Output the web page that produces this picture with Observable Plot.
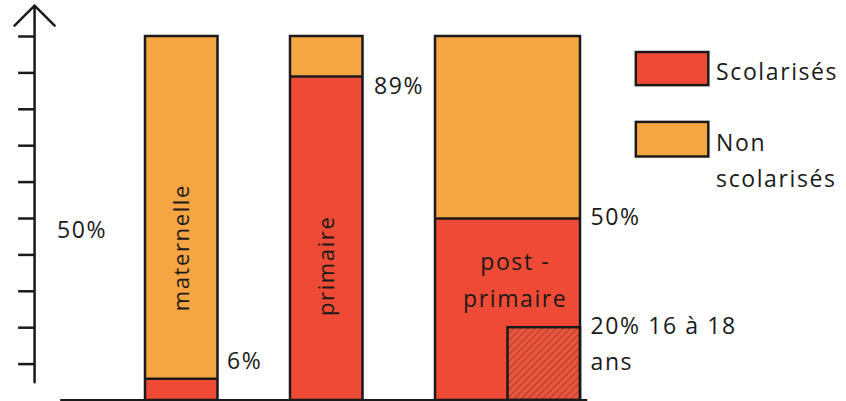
<!DOCTYPE html>
<html>
<head>
<meta charset="utf-8">
<script src="https://cdn.jsdelivr.net/npm/d3@7"></script>
<script src="https://cdn.jsdelivr.net/npm/@observablehq/plot@0.6"></script>
<style>
  html, body { margin: 0; padding: 0; background: #fff; }
  #chart { width: 846px; height: 401px; overflow: hidden; }
  svg text { font-family: "Open Sans", Lato, sans-serif; letter-spacing: 1.6px; }
</style>
</head>
<body>
<div id="chart"></div>
<script>
// ---- data ----
const categories = ["maternelle", "primaire", "post-primaire"];
const scolarises = [6, 89, 50];           // % scolarisés
const barWidths = [1, 1, 2];              // relative widths
const barLabels = ["maternelle", "primaire", "post -\nprimaire"];
const pctLabels = ["6%", "89%", "50%"];
const subCategory = "post-primaire";
const subValue = 20;
const subLabel = "20% 16 à 18\nans";
const axisTicks = [10, 20, 30, 40, 50, 60, 70, 80, 90, 100];
const axisLabel = "50%";
const legendLabels = ["Scolarisés", "Non\nscolarisés"];
const colors = ["#EF4A35", "#F6A543"];

// ---- layout (derived) ----
const gap = 1, start = 2;
let cursor = start;
const bars = categories.map((c, i) => {
  const b = {cat: c, v: scolarises[i], x1: cursor, x2: cursor + barWidths[i],
             label: barLabels[i], pct: pctLabels[i]};
  cursor += barWidths[i] + gap;
  return b;
});
const post = bars.find(b => b.cat === subCategory);
const sub = [{x1: post.x2 - 1, x2: post.x2, y1: 0, y2: subValue, label: subLabel}];
const axisX = 0.47;
const legendX = post.x2 + 0.77;
const legend = legendLabels.map((l, i) => ({label: l, fill: colors[i],
  y1: 95.6 - i * 19.2, y2: 86.5 - i * 19.6}));

const stroke = "#1a1a1a";
const fs = 23;

const plot = Plot.plot({
  width: 846, height: 401,
  marginTop: 36, marginBottom: 1, marginLeft: 0, marginRight: 0,
  x: {domain: [0, 846 / 72.5], axis: null},
  y: {domain: [0, 100], axis: null},
  style: {background: "white", overflow: "visible"},
  marks: [
    // bars
    Plot.rect(bars, {x1: "x1", x2: "x2", y1: 0, y2: "v", fill: colors[0]}),
    Plot.rect(bars, {x1: "x1", x2: "x2", y1: "v", y2: 100, fill: colors[1]}),
    Plot.rect(sub, {x1: "x1", x2: "x2", y1: "y1", y2: "y2", fill: "url(#hatch)", stroke, strokeWidth: 2.5}),
    Plot.rect(bars, {x1: "x1", x2: "x2", y1: 0, y2: 100, fill: "none", stroke, strokeWidth: 2.5}),
    Plot.ruleY(bars, {y: "v", x1: "x1", x2: "x2", stroke, strokeWidth: 2.5}),
    // baseline
    Plot.ruleY([0], {x1: 0.83, x2: post.x2 + 0.1, stroke, strokeWidth: 3}),
    // axis
    Plot.arrow([0], {x1: axisX, x2: axisX, y1: 5, y2: 108.5, stroke, strokeWidth: 2.5, headLength: 17, headAngle: 90}),
    Plot.ruleY(axisTicks, {y: d => d, x1: axisX - 0.22, x2: axisX, stroke, strokeWidth: 2.5}),
    Plot.text([axisLabel], {x: 0.78, y: 50, text: d => d, textAnchor: "start", dy: 12, fontSize: fs, fill: stroke}),
    // percent labels
    Plot.text(bars.filter(b => b.v < 20), {x: "x2", y: "v", text: "pct", textAnchor: "start", dx: 9, dy: -17, fontSize: fs, fill: stroke}),
    Plot.text(bars.filter(b => b.v > 80), {x: "x2", y: "v", text: "pct", textAnchor: "start", dx: 11, dy: 10, fontSize: fs, fill: stroke}),
    Plot.text(bars.filter(b => b.v >= 20 && b.v <= 80), {x: "x2", y: "v", text: "pct", textAnchor: "start", dx: 10, dy: -1, fontSize: fs, fill: stroke}),
    Plot.text(sub, {x: "x2", y: "y2", text: "label", textAnchor: "start", lineAnchor: "top", dx: 10, dy: -19, lineHeight: 1.55, fontSize: fs, fill: stroke}),
    // bar labels
    Plot.text(bars.filter(b => b.cat !== subCategory), {x: b => (b.x1 + b.x2) / 2, y: (b) => b.v > 50 ? 37 : 42, text: "label", rotate: -90, fontSize: 22, fill: stroke}),
    Plot.text([post], {x: b => (b.x1 + b.x2) / 2 + 0.1, y: (subValue + post.v) / 2 - 1, text: "label", lineHeight: 1.6, fontSize: 23, fill: stroke}),
    // legend
    Plot.rect(legend, {x1: legendX, x2: legendX + 1, y1: "y1", y2: "y2", fill: "fill", stroke, strokeWidth: 2.5}),
    Plot.text(legend, {x: legendX + 1.1, y: d => (d.y1 + d.y2) / 2, text: "label", textAnchor: "start", lineAnchor: "top", dy: -14, lineHeight: 1.55, fontSize: fs, fill: stroke})
  ]
});

// hatch pattern
const ns = "http://www.w3.org/2000/svg";
const defs = document.createElementNS(ns, "defs");
defs.innerHTML = `<pattern id="hatch" patternUnits="userSpaceOnUse" width="5" height="5" patternTransform="rotate(45)">
  <rect width="5" height="5" fill="#E9553D"></rect>
  <line x1="0" y1="0" x2="0" y2="5" stroke="#7b2a1c" stroke-width="1.1"></line>
</pattern>`;
plot.insertBefore(defs, plot.firstChild);

document.getElementById("chart").appendChild(plot);
</script>
</body>
</html>
